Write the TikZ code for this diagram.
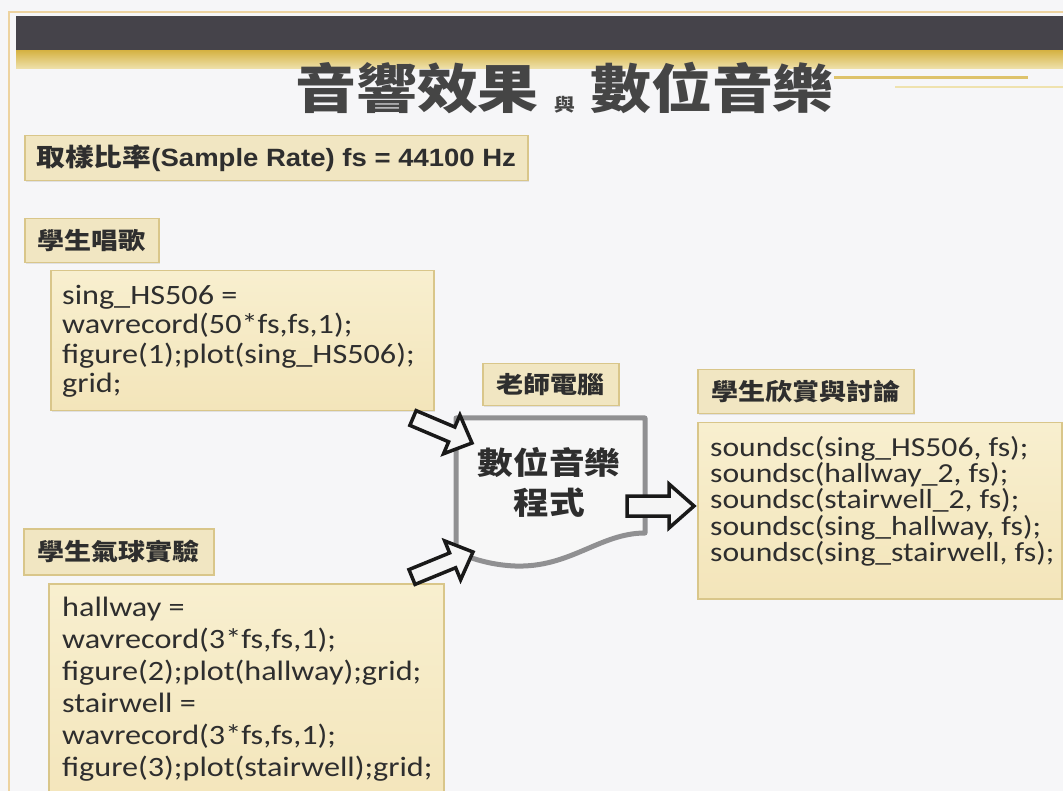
\documentclass[tikz,border=0pt]{standalone}
\usepackage{fontspec}
\setmainfont{Carlito}[FakeStretch=1.15]
\newfontfamily\cjk{Noto Sans CJK TC}[FakeStretch=1.15]
\newfontfamily\arialb{Liberation Sans}[FakeStretch=1.1]
\usetikzlibrary{shadows,calc}
\definecolor{bg}{HTML}{F6F6F8}
\definecolor{band}{HTML}{45434A}
\definecolor{gold}{HTML}{D6B447}
\definecolor{goldlt}{HTML}{EFE2AE}
\definecolor{tanline}{HTML}{EDD3A0}
\definecolor{boxfill}{HTML}{F1E6C2}
\definecolor{codetop}{HTML}{F8EFCF}
\definecolor{codebot}{HTML}{F3E5BA}
\definecolor{boxline}{HTML}{D9C68A}
\definecolor{ink}{HTML}{2E2E2E}
\definecolor{titleink}{HTML}{454545}
\definecolor{docline}{HTML}{909092}
\tikzset{
  boxshadow/.style={drop shadow={shadow xshift=1.5pt, shadow yshift=-1.5pt, opacity=0.18}},
  labelbox/.style={draw=boxline, fill=boxfill, line width=1.5pt, inner sep=0pt, boxshadow,
    font=\cjk\bfseries\fontsize{23.5}{26}\selectfont, text=ink},
  codebox/.style={draw=boxline, top color=codetop, bottom color=codebot, line width=1.5pt,
    inner sep=0pt, anchor=north west, boxshadow},
  codetext/.style={anchor=north west, inner sep=0pt, align=left, text=ink},
  titletext/.style={anchor=base, inner sep=0pt, text=titleink},
  barrow/.style={draw=black!90, fill=black!4, line width=3.5pt, line join=miter},
}
\newcommand\blockarrow[5]{%
  \draw[barrow] let \p1=(#1), \p2=(#2), \n1={atan2(\y2-\y1,\x2-\x1)},
    \n2={veclen(\x2-\x1,\y2-\y1)} in
    [shift={(\p1)}, rotate=\n1]
    (0pt,{-#3*1pt}) -- ({(\n2-#5)*1pt},{-#3*1pt}) -- ({(\n2-#5)*1pt},{-#4*1pt})
    -- ({\n2*1pt},0pt) -- ({(\n2-#5)*1pt},{#4*1pt}) -- ({(\n2-#5)*1pt},{#3*1pt})
    -- (0pt,{#3*1pt}) -- cycle;}
\begin{document}
\begin{tikzpicture}[x=1pt,y=-1pt]
\useasboundingbox (0,0) rectangle (1063,791);
\fill[bg] (0,0) rectangle (1063,791);
% frame lines
\draw[tanline, line width=2pt] (9,800) -- (9,12) -- (1063,12);
% header bands
\fill[band] (16,16) rectangle (1063,51);
\shade[top color=gold, bottom color=goldlt] (16,51) rectangle (1063,69);
\draw[gold!80, line width=3pt] (834,78) -- (1028,78);
\draw[goldlt, line width=1.5pt] (895,87) -- (1063,87);
% title
\node[titletext, font=\cjk\bfseries\fontsize{53}{60}\selectfont] (t1) at (417,109) {音響效果};
\node[titletext, font=\cjk\bfseries\fontsize{18}{20}\selectfont] (t2) at (565,112) {與};
\node[titletext, font=\cjk\bfseries\fontsize{53}{60}\selectfont] (t3) at (712,109) {數位音樂};
% sample rate
\node[labelbox, anchor=north west, minimum width=503, minimum height=45,
  font=\cjk\bfseries\fontsize{25}{28}\selectfont] (rate) at (24,135)
  {取樣比率{\arialb\bfseries\fontsize{25}{28}\selectfont(Sample Rate) fs = 44100 Hz}};
% student singing
\node[labelbox, anchor=north west, minimum width=134, minimum height=44] (sing) at (24,218) {學生唱歌};
\node[codebox, minimum width=383, minimum height=140] (singcode) at (50,270) {};
\node[codetext, font=\fontsize{28}{29.5}\selectfont] (singtext) at (62,285)
  {sing\_HS506 =\\wavrecord(50*fs,fs,1);\\figure(1);plot(sing\_HS506);\\grid;};
% balloon
\node[labelbox, anchor=north west, minimum width=190, minimum height=46] (balloon) at (23,528) {學生氣球實驗};
\node[codebox, minimum width=395, minimum height=230] (ballooncode) at (48,583) {};
\node[codetext, font=\fontsize{28}{32}\selectfont] (balloontext) at (62,597)
  {hallway =\\wavrecord(3*fs,fs,1);\\figure(2);plot(hallway);grid;\\stairwell =\\wavrecord(3*fs,fs,1);\\figure(3);plot(stairwell);grid;};
% teacher computer
\node[labelbox, anchor=north west, minimum width=136, minimum height=42] (teacher) at (482,363) {老師電腦};
\filldraw[draw=docline, fill=white!97!black, line width=5pt, line join=round]
  (456,418) -- (645,418) -- (645,533)
  .. controls (600,533) and (570,568) .. (515,566)
  .. controls (490,565) and (470,558) .. (456,552) -- cycle;
\node[align=center, inner sep=0pt, text=ink, font=\cjk\bfseries\fontsize{31}{40}\selectfont] (prog) at (549,482) {數位音樂\\程式};
% appreciation
\node[labelbox, anchor=north west, minimum width=216, minimum height=44] (appr) at (697,369) {學生欣賞與討論};
\node[codebox, minimum width=364, minimum height=176] (apprcode) at (697,422) {};
\node[codetext, font=\fontsize{27.5}{26.3}\selectfont] (apprtext) at (710,436)
  {soundsc(sing\_HS506, fs);\\soundsc(hallway\_2, fs);\\soundsc(stairwell\_2, fs);\\soundsc(sing\_hallway, fs);\\soundsc(sing\_stairwell, fs);};
% block arrows
\coordinate (a1s) at (413,418);
\coordinate (a1e) at (472,443);
\coordinate (a2s) at (412,577);
\coordinate (a2e) at (473,552);
\coordinate (a3s) at (627,506);
\coordinate (a3e) at (694,506);
\blockarrow{a1s}{a1e}{8}{21}{22}
\blockarrow{a2s}{a2e}{8}{21}{22}
\blockarrow{a3s}{a3e}{10}{22}{25}
\end{tikzpicture}
\end{document}
